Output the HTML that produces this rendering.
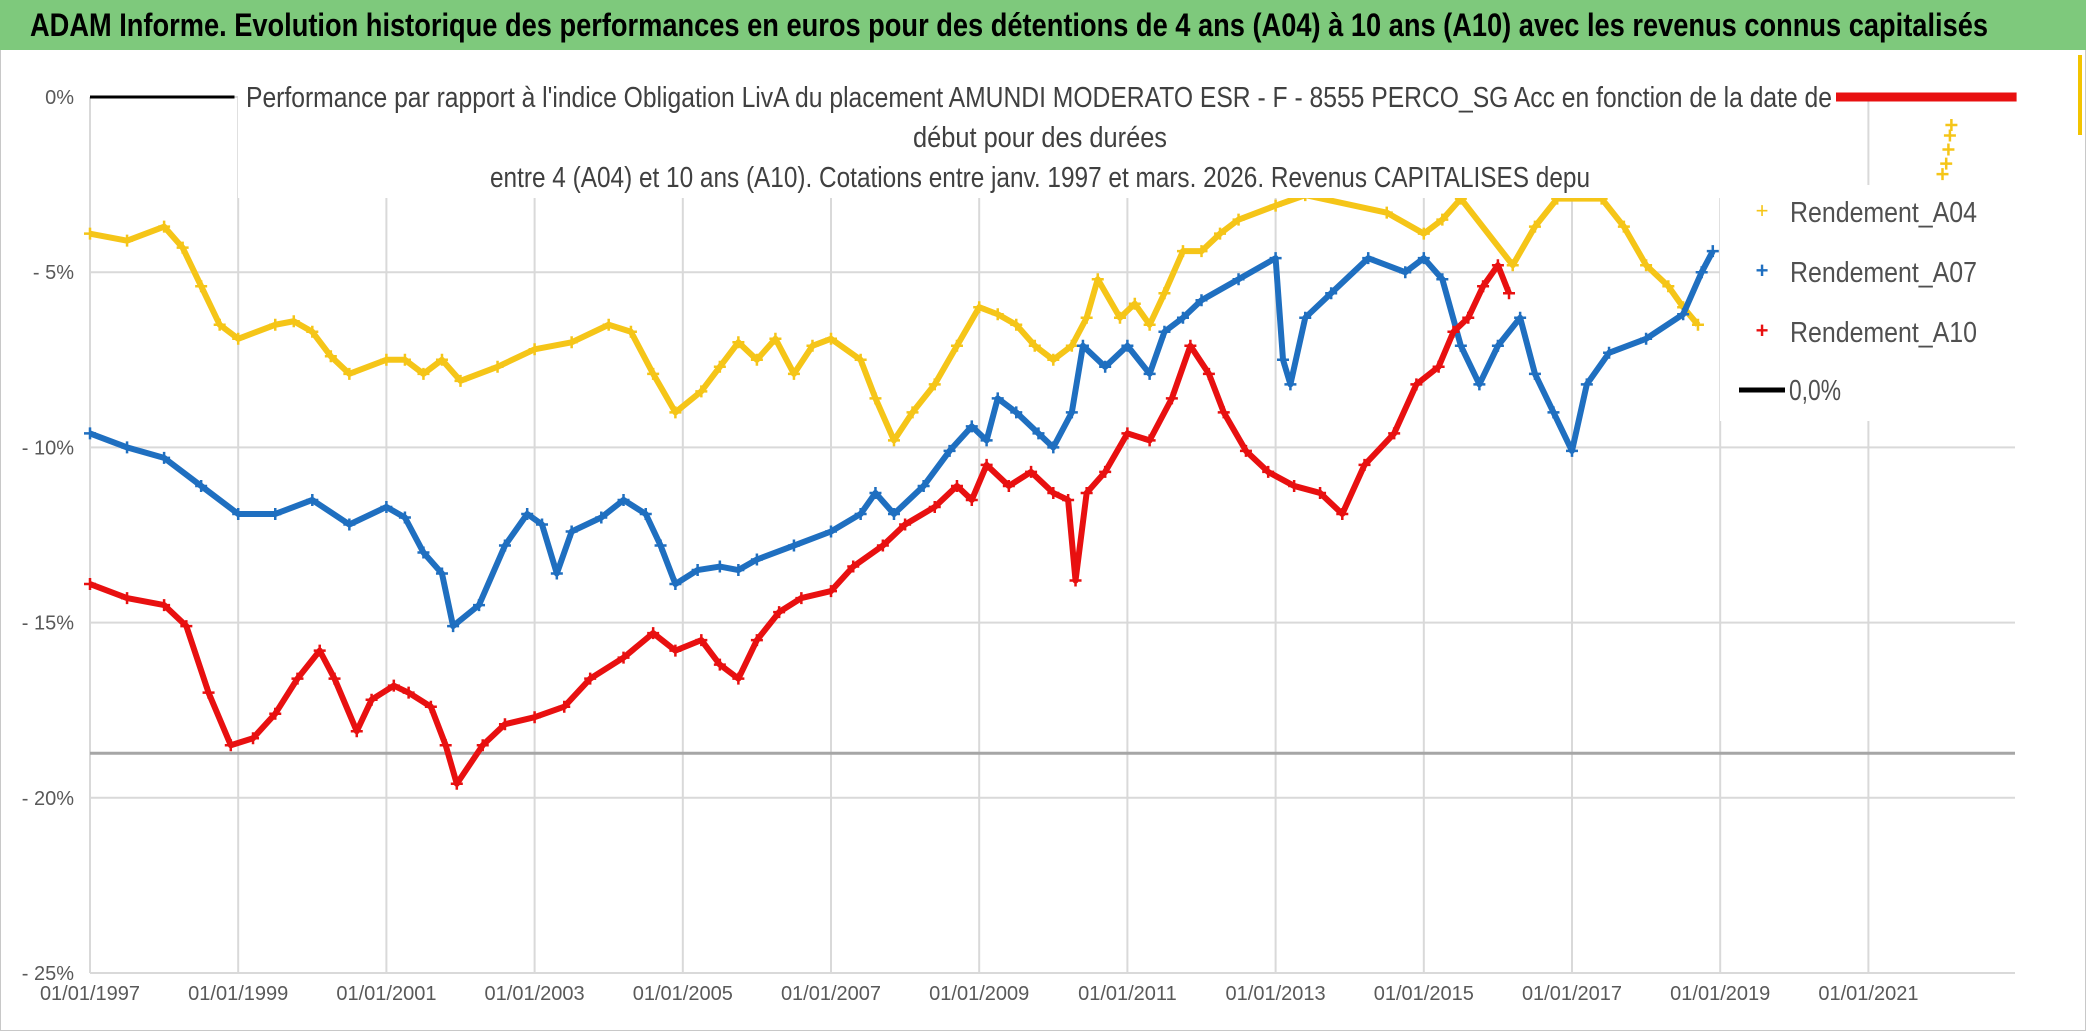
<!DOCTYPE html>
<html><head><meta charset="utf-8"><style>
html,body{margin:0;padding:0;background:#fff;}
svg{display:block;}
</style></head><body>
<svg id="chart" width="2086" height="1031" viewBox="0 0 2086 1031" xmlns="http://www.w3.org/2000/svg" font-family="'Liberation Sans Narrow','Liberation Sans',sans-serif">
<rect x="0" y="0" width="2086" height="1031" fill="#fff" stroke="#c8c8c8" stroke-width="2"/>
<rect x="0" y="0" width="2086" height="50" fill="#7ec97c"/>
<text x="30" y="36" font-size="32" font-weight="bold" fill="#000" textLength="1958" lengthAdjust="spacingAndGlyphs">ADAM Informe. Evolution historique des performances en euros pour des détentions de 4 ans (A04) à 10 ans (A10) avec les revenus connus capitalisés</text>
<rect x="2078" y="55" width="4" height="80" fill="#f3c400"/>
<g id="grid"></g>
<g id="ylabels"></g>
<g id="xlabels"></g>
<g id="series"></g>
<g>
<rect x="238" y="78" width="1598" height="120" fill="#fff"/>
<text x="246" y="107" font-size="29" fill="#404040" textLength="1586" lengthAdjust="spacingAndGlyphs">Performance par rapport à l'indice Obligation LivA  du placement AMUNDI MODERATO ESR - F - 8555 PERCO_SG Acc en fonction de la date de</text>
<text x="913" y="147" font-size="29" fill="#404040" textLength="254" lengthAdjust="spacingAndGlyphs">début pour des durées</text>
<text x="490" y="187" font-size="29" fill="#404040" textLength="1100" lengthAdjust="spacingAndGlyphs">entre 4 (A04) et 10 ans (A10). Cotations entre janv. 1997 et mars. 2026. Revenus CAPITALISES depu</text>
</g>
<g id="legend">
<rect x="1720" y="185" width="296" height="236" fill="#fff"/>
<g><text x="1762" y="218" font-size="22" fill="#f5c518" text-anchor="middle">+</text><text x="1790" y="222" font-size="29" fill="#505050" textLength="187" lengthAdjust="spacingAndGlyphs">Rendement_A04</text></g>
<g><text x="1762" y="278" font-size="22" fill="#1f6fc0" text-anchor="middle" font-weight="bold">+</text><text x="1790" y="282" font-size="29" fill="#505050" textLength="187" lengthAdjust="spacingAndGlyphs">Rendement_A07</text></g>
<g><text x="1762" y="338" font-size="22" fill="#e81010" text-anchor="middle" font-weight="bold">+</text><text x="1790" y="342" font-size="29" fill="#505050" textLength="187" lengthAdjust="spacingAndGlyphs">Rendement_A10</text></g>
<g><line x1="1739" y1="390" x2="1785" y2="390" stroke="#000" stroke-width="5"/><text x="1789" y="400" font-size="29" fill="#505050" textLength="52" lengthAdjust="spacingAndGlyphs">0,0%</text></g>
</g>
</svg>
<script>
const yTicks=[0,-5,-10,-15,-20,-25];
const yTickLabels=['0%','- 5%','- 10%','- 15%','- 20%','- 25%'];
const xTicks=[1997,1999,2001,2003,2005,2007,2009,2011,2013,2015,2017,2019,2021];
const xTickLabels=['01/01/1997','01/01/1999','01/01/2001','01/01/2003','01/01/2005','01/01/2007','01/01/2009','01/01/2011','01/01/2013','01/01/2015','01/01/2017','01/01/2019','01/01/2021'];
const refLineValue=-18.73;
const a04Dates=[1997,1997.5,1998,1998.25,1998.5,1998.75,1999,1999.5,1999.75,2000,2000.25,2000.5,2001,2001.25,2001.5,2001.75,2002,2002.5,2003,2003.5,2004,2004.3,2004.6,2004.9,2005.25,2005.5,2005.75,2006,2006.25,2006.5,2006.75,2007,2007.4,2007.6,2007.85,2008.1,2008.4,2008.7,2009,2009.25,2009.5,2009.75,2010,2010.25,2010.45,2010.6,2010.9,2011.1,2011.3,2011.5,2011.75,2012,2012.25,2012.5,2013,2013.4,2014.5,2015,2015.25,2015.5,2016.2,2016.5,2016.8,2017.4,2017.7,2018,2018.3,2018.5,2018.7];
const a04Values=[-3.9,-4.1,-3.7,-4.3,-5.4,-6.5,-6.9,-6.5,-6.4,-6.7,-7.4,-7.9,-7.5,-7.5,-7.9,-7.5,-8.1,-7.7,-7.2,-7.0,-6.5,-6.7,-7.9,-9.0,-8.4,-7.7,-7.0,-7.5,-6.9,-7.9,-7.1,-6.9,-7.5,-8.6,-9.8,-9.0,-8.2,-7.1,-6.0,-6.2,-6.5,-7.1,-7.5,-7.1,-6.3,-5.2,-6.3,-5.9,-6.5,-5.6,-4.4,-4.4,-3.9,-3.5,-3.1,-2.8,-3.3,-3.9,-3.5,-2.9,-4.8,-3.7,-2.9,-2.9,-3.7,-4.8,-5.4,-6.0,-6.5];
const a04TailDates=[2022.0,2022.05,2022.08,2022.1,2022.12];
const a04TailValues=[-2.2,-1.9,-1.5,-1.1,-0.8];
const a07Dates=[1997,1997.5,1998,1998.5,1999,1999.5,2000,2000.5,2001,2001.25,2001.5,2001.75,2001.9,2002.25,2002.6,2002.9,2003.1,2003.3,2003.5,2003.9,2004.2,2004.5,2004.7,2004.9,2005.2,2005.5,2005.75,2006,2006.5,2007,2007.4,2007.6,2007.85,2008.25,2008.6,2008.9,2009.1,2009.25,2009.5,2009.8,2010,2010.25,2010.4,2010.7,2011,2011.3,2011.5,2011.75,2012,2012.5,2013,2013.1,2013.2,2013.4,2013.75,2014.25,2014.75,2015,2015.25,2015.5,2015.75,2016,2016.3,2016.5,2016.75,2017,2017.2,2017.5,2018,2018.5,2018.75,2018.9];
const a07Values=[-9.6,-10.0,-10.3,-11.1,-11.9,-11.9,-11.5,-12.2,-11.7,-12.0,-13.0,-13.6,-15.1,-14.5,-12.8,-11.9,-12.2,-13.6,-12.4,-12.0,-11.5,-11.9,-12.8,-13.9,-13.5,-13.4,-13.5,-13.2,-12.8,-12.4,-11.9,-11.3,-11.9,-11.1,-10.1,-9.4,-9.8,-8.6,-9.0,-9.6,-10.0,-9.0,-7.1,-7.7,-7.1,-7.9,-6.7,-6.3,-5.8,-5.2,-4.6,-7.5,-8.2,-6.3,-5.6,-4.6,-5.0,-4.6,-5.2,-7.1,-8.2,-7.1,-6.3,-7.9,-9.0,-10.1,-8.2,-7.3,-6.9,-6.2,-5.0,-4.4];
const a10Dates=[1997,1997.5,1998,1998.3,1998.6,1998.9,1999.2,1999.5,1999.8,2000.1,2000.3,2000.6,2000.8,2001.1,2001.3,2001.6,2001.8,2001.95,2002.3,2002.6,2003,2003.4,2003.75,2004.2,2004.6,2004.9,2005.25,2005.5,2005.75,2006,2006.3,2006.6,2007,2007.3,2007.7,2008,2008.4,2008.7,2008.9,2009.1,2009.4,2009.7,2010,2010.2,2010.3,2010.45,2010.7,2011,2011.3,2011.6,2011.85,2012.1,2012.3,2012.6,2012.9,2013.25,2013.6,2013.9,2014.2,2014.6,2014.9,2015.2,2015.4,2015.6,2015.8,2016,2016.15];
const a10Values=[-13.9,-14.3,-14.5,-15.1,-17.0,-18.5,-18.3,-17.6,-16.6,-15.8,-16.6,-18.1,-17.2,-16.8,-17.0,-17.4,-18.5,-19.6,-18.5,-17.9,-17.7,-17.4,-16.6,-16.0,-15.3,-15.8,-15.5,-16.2,-16.6,-15.5,-14.7,-14.3,-14.1,-13.4,-12.8,-12.2,-11.7,-11.1,-11.5,-10.5,-11.1,-10.7,-11.3,-11.5,-13.8,-11.3,-10.7,-9.6,-9.8,-8.6,-7.1,-7.9,-9.0,-10.1,-10.7,-11.1,-11.3,-11.9,-10.5,-9.6,-8.2,-7.7,-6.7,-6.3,-5.4,-4.8,-5.6];
const zeroTailStart=2020.55, zeroTailEnd=2023;
const zeroLineStart=1997, zeroLineEnd=1998.95;

const NS='http://www.w3.org/2000/svg';
const X=y=>90+(y-1997)*74.1;
const Y=p=>97+(-p)*35.04;
function mk(tag,attrs,parent){const e=document.createElementNS(NS,tag);for(const k in attrs)e.setAttribute(k,attrs[k]);parent.appendChild(e);return e;}
const grid=document.getElementById('grid'),yl=document.getElementById('ylabels'),xl=document.getElementById('xlabels'),ser=document.getElementById('series');
yTicks.forEach((t,i)=>{
  const l=mk('line',{x1:90,x2:2015,y1:Y(t),y2:Y(t),stroke:'#d9d9d9','stroke-width':2},grid);
  
  
  const tx=mk('text',{x:74,y:Y(t)+7,'font-size':20,fill:'#595959','text-anchor':'end'},yl);
  tx.textContent=yTickLabels[i];
  
  
});
xTicks.forEach((t,i)=>{
  const l=mk('line',{x1:X(t),x2:X(t),y1:97,y2:Y(-25),stroke:'#d9d9d9','stroke-width':2},grid);
  
  
  const tx=mk('text',{x:X(t),y:1000,'font-size':20,fill:'#595959','text-anchor':'middle'},xl);
  tx.textContent=xTickLabels[i];
  
  
});
const ax=mk('line',{x1:90,x2:90,y1:97,y2:Y(-25),stroke:'#d9d9d9','stroke-width':2},grid);


const ref=mk('line',{x1:90,x2:2015,y1:Y(refLineValue),y2:Y(refLineValue),stroke:'#a6a6a6','stroke-width':3},grid);


function drawSeries(name,dates,vals,color,line){
  const g=mk('g',{},ser);
  
  
  if(line){const pl=mk('polyline',{points:dates.map((d,i)=>X(d)+','+Y(vals[i])).join(' '),fill:'none',stroke:color,'stroke-width':6,'stroke-linejoin':'round'},g);
  
  }
  dates.forEach((d,i)=>{
    const c=mk('path',{d:`M${X(d)-6},${Y(vals[i])}h12M${X(d)},${Y(vals[i])-6}v12`,stroke:color,'stroke-width':2.5},g);
    
    
  });
}
drawSeries('series-a04',a04Dates,a04Values,'#f5c518',true);
drawSeries('series-a04-tail',a04TailDates,a04TailValues,'#f5c518',false);
drawSeries('series-a07',a07Dates,a07Values,'#1f6fc0',true);
drawSeries('series-a10',a10Dates,a10Values,'#e81010',true);
const zt=mk('line',{x1:X(zeroTailStart),x2:X(zeroTailEnd),y1:Y(0),y2:Y(0),stroke:'#e81010','stroke-width':9},ser);


const zl=mk('line',{x1:X(zeroLineStart),x2:X(zeroLineEnd),y1:Y(0),y2:Y(0),stroke:'#000','stroke-width':3},ser);


</script>
</body></html>
